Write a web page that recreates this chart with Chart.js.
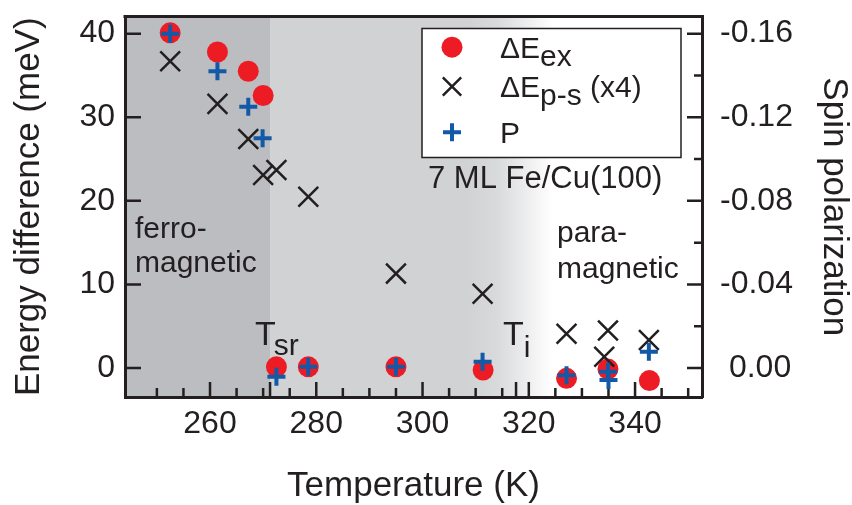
<!DOCTYPE html>
<html>
<head>
<meta charset="utf-8">
<script src="https://cdn.jsdelivr.net/npm/chart.js@4.4.1/dist/chart.umd.min.js"></script>
<style>
  html, body { margin: 0; padding: 0; background: #fff; }
</style>
</head>
<body>
<canvas id="tempChart" width="852" height="505"></canvas>
<script>
// data
const tempEx = [252.5, 261.4, 267.2, 270.0, 272.5, 278.5, 295.0, 311.4, 327.1, 334.9, 342.7];
const dEex   = [40.1, 37.8, 35.5, 32.6, 0.15, 0.15, 0.15, -0.24, -1.23, -0.12, -1.5];

const tempPs = [252.5, 261.4, 267.2, 270.0, 272.5, 278.5, 295.0, 311.3, 327.1, 334.9, 334.2, 342.6];
const dEps   = [36.7, 31.6, 27.4, 23.1, 23.7, 20.5, 11.3, 8.9, 4.1, 4.5, 1.35, 3.35];   // already x4

const tempP  = [252.5, 261.4, 267.2, 269.9, 272.5, 278.5, 295.0, 311.3, 327.1, 334.9, 335.0, 342.6];
const polP   = [-0.160, -0.142, -0.125, -0.110, 0.0042, -0.0006, -0.0006, -0.003, 0.0034, 0.0018, 0.0057, -0.0078];

// axes
const xMajorTicks = [260, 280, 300, 320, 340];
const xMinorTicks = [250, 255, 265, 270, 275, 285, 290, 295, 305, 310, 315, 325, 330, 335, 345, 350];
const xMarkTicks  = [271.3, 317.6];            // T_sr and T_i
const yTicks      = [0, 10, 20, 30, 40];
const pMajorTicks = [0, -0.04, -0.08, -0.12, -0.16];
const pMinorTicks = [-0.02, -0.06, -0.10, -0.14];

// shaded phases
const tSr = 271.3;
const fadeStart = 308.5;
const fadeEnd = 324.5;

const legendMain = ["\u0394E", "\u0394E", "P"];
const legendSub  = ["ex", "p-s", ""];
const legendTail = ["", " (x4)", ""];

const FONT = "'Liberation Sans', Arial, Helvetica, sans-serif";
const INK = "#231f20";
const RED = "#ed1c24";
const BLUE = "#1259a8";

const xMin = 244.0, xMax = 352.6;
const yMin = -3.46, yMax = 42.05;
const pScale = -0.004;   // right axis: P = -0.004 * E

function drawMarker(ctx, style, r, x, y, color, lw) {
    ctx.save();
    if (style === "circle") {
        ctx.fillStyle = color;
        ctx.beginPath(); ctx.arc(x, y, r, 0, Math.PI * 2); ctx.fill();
    } else {
        ctx.strokeStyle = color; ctx.lineWidth = lw;
        const d = style === "crossRot" ? r * Math.SQRT1_2 : r;
        ctx.beginPath();
        if (style === "crossRot") {
            ctx.moveTo(x - d, y - d); ctx.lineTo(x + d, y + d);
            ctx.moveTo(x + d, y - d); ctx.lineTo(x - d, y + d);
        } else {
            ctx.moveTo(x - d, y); ctx.lineTo(x + d, y);
            ctx.moveTo(x, y - d); ctx.lineTo(x, y + d);
        }
        ctx.stroke();
    }
    ctx.restore();
}

function subText(ctx, main, sub, x, y, size, subSize, dy, gap) {
    ctx.font = size + "px " + FONT;
    ctx.fillText(main, x, y);
    const w = ctx.measureText(main).width;
    ctx.font = subSize + "px " + FONT;
    ctx.fillText(sub, x + w + gap, y + dy);
    return x + w + gap + ctx.measureText(sub).width;
}

// no extra room for labels at the ends of an axis
function noPad(s) {
    s.paddingTop = 0; s.paddingBottom = 0; s.paddingLeft = 0; s.paddingRight = 0;
}

// background shading, frame and inward tick marks
const framePlugin = {
    id: "frame",
    beforeDraw(chart) {
        const { ctx, chartArea: a, scales: { x } } = chart;
        const h = a.bottom - a.top;
        const p1 = x.getPixelForValue(tSr), p2 = x.getPixelForValue(fadeStart), p3 = x.getPixelForValue(fadeEnd);
        ctx.save();
        ctx.fillStyle = "#bcbdc0";
        ctx.fillRect(a.left, a.top, p1 - a.left, h);
        // light grey that fades to white, one fill so there is no seam
        const g = ctx.createLinearGradient(p1, 0, p3, 0);
        const f = (p2 - p1) / (p3 - p1);
        g.addColorStop(0, "#d1d2d4");
        g.addColorStop(f, "#d1d2d4");
        g.addColorStop(f + (1 - f) * 0.35, "#d9dadc");
        g.addColorStop(1, "#ffffff");
        ctx.fillStyle = g;
        ctx.fillRect(p1, a.top, p3 - p1, h);
        ctx.restore();
    },
    beforeDatasetsDraw(chart) {
        const { ctx, chartArea: a, scales: { x, y, y2 } } = chart;
        ctx.save();
        ctx.strokeStyle = INK;
        ctx.lineWidth = 2.5;
        ctx.beginPath();
        xMajorTicks.concat(xMarkTicks).forEach(v => { const px = x.getPixelForValue(v); ctx.moveTo(px, a.bottom); ctx.lineTo(px, a.bottom - 15); });
        xMinorTicks.forEach(v => { const px = x.getPixelForValue(v); ctx.moveTo(px, a.bottom); ctx.lineTo(px, a.bottom - 9); });
        yTicks.forEach(v => { const py = y.getPixelForValue(v); ctx.moveTo(a.left, py); ctx.lineTo(a.left + 16, py); });
        pMajorTicks.forEach(v => { const py = y2.getPixelForValue(v); ctx.moveTo(a.right, py); ctx.lineTo(a.right - 15, py); });
        pMinorTicks.forEach(v => { const py = y2.getPixelForValue(v); ctx.moveTo(a.right, py); ctx.lineTo(a.right - 8, py); });
        ctx.stroke();
        // top frame line
        ctx.lineWidth = 3;
        ctx.beginPath();
        ctx.moveTo(a.left - 1.5, a.top); ctx.lineTo(a.right + 1.5, a.top);
        ctx.stroke();
        ctx.restore();
    },
    afterDraw(chart) {
        const { ctx, chartArea: a } = chart;
        ctx.save();
        ctx.fillStyle = INK;
        ctx.textBaseline = "alphabetic";
        ctx.textAlign = "left";

        // annotations
        ctx.font = "30px " + FONT;
        ctx.fillText("ferro-", 135, 238);
        ctx.fillText("magnetic", 135, 272);
        ctx.fillText("para-", 557, 242);
        ctx.fillText("magnetic", 557, 278);
        ctx.font = "31px " + FONT;
        ctx.fillText("7 ML Fe/Cu(100)", 428, 188);
        subText(ctx, "T", "sr", 255, 345, 34, 30, 10, -2);
        subText(ctx, "T", "i", 503, 345, 34, 30, 12, 0);

        // legend box
        const bx = a.right - 280, by = a.top + 12, bw = 259, bh = 129;
        ctx.fillStyle = "#ffffff";
        ctx.fillRect(bx, by, bw, bh);
        ctx.strokeStyle = INK;
        ctx.lineWidth = 1.5;
        ctx.strokeRect(bx, by, bw, bh);
        const rows = [18.7, 58, 103.7];
        const legendMarks = [["circle", 10.5, RED, 0], ["crossRot", 13, INK, 2.5], ["cross", 9, BLUE, 4]];
        rows.forEach((ry, i) => {
            const m = legendMarks[i];
            drawMarker(ctx, m[0], m[1], bx + 30, by + ry, m[2], m[3]);
            ctx.fillStyle = INK;
            const end = subText(ctx, legendMain[i], legendSub[i], bx + 78, by + ry + 10.5, 30, 30, 8, 0);
            if (legendTail[i]) {
                ctx.font = "30px " + FONT;
                ctx.fillText(legendTail[i], end, by + ry + 10.5);
            }
        });
        ctx.restore();
    }
};

const tickFont = { family: FONT, size: 32 };
const titleFont = { family: FONT, size: 35, lineHeight: 1 };

const ctx = document.getElementById("tempChart").getContext("2d");
const tempChart = new Chart(ctx, {
    type: "scatter",
    data: {
        datasets: [
            { label: "\u0394Eex", data: tempEx.map((t, i) => ({ x: t, y: dEex[i] })), yAxisID: "y",
              pointStyle: "circle", pointRadius: 10.5, backgroundColor: RED, borderWidth: 0, order: 2 },
            { label: "\u0394Ep-s (x4)", data: tempPs.map((t, i) => ({ x: t, y: dEps[i] })), yAxisID: "y",
              pointStyle: "crossRot", pointRadius: 14, borderColor: INK, borderWidth: 2.5, order: 1 },
            { label: "P", data: tempP.map((t, i) => ({ x: t, y: polP[i] })), yAxisID: "y2",
              pointStyle: "cross", pointRadius: 9, borderColor: BLUE, borderWidth: 4, order: 0 }
        ]
    },
    options: {
        responsive: false,
        animation: false,
        devicePixelRatio: 1,
        layout: { padding: { top: 16, left: 0, right: 0, bottom: 0 } },
        clip: false,
        plugins: { legend: { display: false }, tooltip: { enabled: false } },
        scales: {
            x: {
                type: "linear", min: xMin, max: xMax,
                grid: { display: false, drawTicks: false },
                border: { color: INK, width: 3 },
                afterBuildTicks: s => { s.ticks = xMajorTicks.map(v => ({ value: v })); },
                ticks: { font: tickFont, color: INK, padding: 8, maxRotation: 0, autoSkip: false },
                title: { display: true, text: "Temperature (K)", color: INK, font: titleFont, padding: 1 },
                afterFit: s => { s.height = 108; noPad(s); }
            },
            y: {
                position: "left", min: yMin, max: yMax,
                grid: { display: false, drawTicks: false },
                border: { color: INK, width: 3 },
                afterBuildTicks: s => { s.ticks = yTicks.map(v => ({ value: v })); },
                ticks: { font: tickFont, color: INK, padding: 10 },
                title: { display: true, text: "Energy difference (meV)", color: INK, font: titleFont, padding: 12 },
                afterFit: s => { s.width = 125; noPad(s); }
            },
            y2: {
                position: "right", reverse: true,
                min: yMax * pScale, max: yMin * pScale,
                grid: { display: false, drawTicks: false },
                border: { color: INK, width: 3 },
                afterBuildTicks: s => { s.ticks = pMajorTicks.map(v => ({ value: v })); },
                ticks: {
                    font: tickFont, color: INK, padding: 18,
                    callback: v => (v < 0 ? "" : " ") + v.toFixed(2)
                },
                title: { display: true, text: "Spin polarization", color: INK, font: titleFont, padding: 1 },
                afterFit: s => { s.width = 150; noPad(s); }
            }
        }
    },
    plugins: [framePlugin]
});
</script>
</body>
</html>
